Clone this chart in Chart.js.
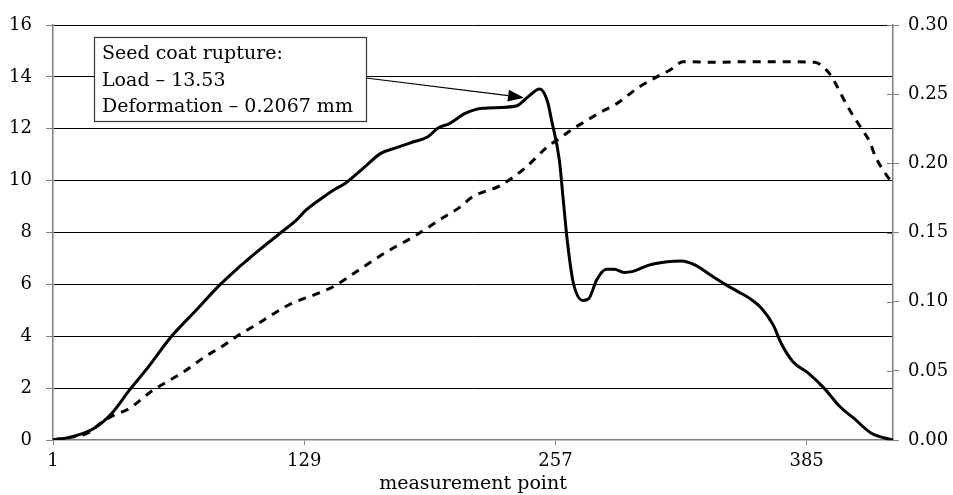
<!DOCTYPE html>
<html>
<head>
<meta charset="utf-8">
<script src="https://cdn.jsdelivr.net/npm/chart.js@4/dist/chart.umd.min.js"></script>
<style>
  html, body { margin: 0; padding: 0; background: #fff; }
  #wrap { width: 953px; height: 495px; position: relative; }
</style>
</head>
<body>
<div id="wrap"><canvas id="chart"></canvas></div>
<script>
// measurement point ticks shown on the x axis
const xTicks = [1, 129, 257, 385];

// Load (left axis)
const loadX = [1, 11, 22, 31, 40, 49, 61, 74, 86, 96, 100, 106, 117, 125, 130, 139, 144, 150, 159, 168, 176, 184, 192, 197, 203, 211, 220, 237, 243, 249, 253, 255, 259, 261, 263, 266, 271, 274, 278, 283, 287, 292, 296, 305, 314, 321, 328, 336, 344, 350, 356, 362, 368, 372, 378, 386, 394, 402, 409, 418, 429];
const loadY = [0, 0.13, 0.45, 1.03, 1.93, 2.76, 3.96, 5.01, 5.98, 6.68, 6.94, 7.32, 7.99, 8.48, 8.87, 9.38, 9.64, 9.90, 10.47, 11.05, 11.27, 11.48, 11.69, 12.02, 12.2, 12.59, 12.79, 12.88, 13.23, 13.53, 13.04, 12.34, 10.79, 9.25, 7.71, 6.1, 5.38, 5.45, 6.17, 6.58, 6.58, 6.46, 6.49, 6.75, 6.87, 6.90, 6.75, 6.36, 5.98, 5.72, 5.46, 5.08, 4.43, 3.73, 3.02, 2.57, 1.99, 1.28, 0.84, 0.26, 0];

// Deformation (right axis, mm)
const defX = [1, 20, 25, 32, 39, 52, 67, 79, 87, 94, 107, 121, 136, 144, 158, 171, 186, 200, 208, 215, 229, 241, 253, 260, 266, 273, 280, 287, 300, 308, 316, 322, 339, 355, 372, 389, 396, 400, 404, 408, 413, 417, 420, 424, 429];
const defY = [0, 0.006, 0.012, 0.018, 0.022, 0.036, 0.0487, 0.0607, 0.0675, 0.0743, 0.0855, 0.0976, 0.106, 0.111, 0.124, 0.136, 0.148, 0.161, 0.168, 0.176, 0.184, 0.196, 0.212, 0.219, 0.225, 0.231, 0.237, 0.242, 0.2555, 0.262, 0.268, 0.2735, 0.273, 0.2735, 0.2735, 0.273, 0.266, 0.257, 0.246, 0.236, 0.225, 0.216, 0.205, 0.195, 0.185];

const noteLines = ['Seed coat rupture:', 'Load \u2013 13.53', 'Deformation \u2013 0.2067 mm'];
const noteTarget = { x: 241, y: 13.2 };

const AXIS_GREY = '#7f7f7f';
const SERIF = "'DejaVu Serif', serif";

Chart.defaults.font.family = SERIF;
Chart.defaults.font.size = 18;
Chart.defaults.color = '#000';

const toPoints = (xs, ys) => xs.map((x, i) => ({ x: x, y: ys[i] }));

// right axis has tick marks crossing the axis line; chart.js only draws the outer half
const crossTicks = {
    id: 'crossTicks',
    afterDraw(chart) {
        const s = chart.scales.y2;
        const ctx = chart.ctx;
        ctx.save();
        ctx.strokeStyle = AXIS_GREY;
        ctx.lineWidth = 1;
        s.ticks.forEach(t => {
            const y = Math.round(s.getPixelForValue(t.value)) + 0.5;
            ctx.beginPath();
            ctx.moveTo(s.left - 6, y);
            ctx.lineTo(s.left, y);
            ctx.stroke();
        });
        ctx.restore();
    }
};

const note = {
    id: 'note',
    afterDraw(chart) {
        const ctx = chart.ctx;
        const area = chart.chartArea;
        const bx = area.left + 41, by = area.top + 12, bw = 272, bh = 84;

        ctx.save();
        ctx.fillStyle = '#fff';
        ctx.fillRect(bx, by, bw, bh);
        ctx.strokeStyle = '#333';
        ctx.lineWidth = 1.2;
        ctx.strokeRect(bx + 0.5, by + 0.5, bw, bh);

        ctx.fillStyle = '#000';
        ctx.font = '19px ' + SERIF;
        ctx.textBaseline = 'alphabetic';
        noteLines.forEach((line, i) => ctx.fillText(line, bx + 8, by + 22 + i * 26.5));

        // arrow to the rupture point
        const sx = bx + bw, sy = by + 41;
        const tx = chart.scales.x.getPixelForValue(noteTarget.x);
        const ty = chart.scales.y.getPixelForValue(noteTarget.y);
        const ang = Math.atan2(ty - sy, tx - sx);
        const hl = 16, hw = 6;
        const baseX = tx - hl * Math.cos(ang), baseY = ty - hl * Math.sin(ang);
        ctx.strokeStyle = '#000';
        ctx.lineWidth = 1.2;
        ctx.beginPath();
        ctx.moveTo(sx, sy);
        ctx.lineTo(baseX, baseY);
        ctx.stroke();
        ctx.beginPath();
        ctx.moveTo(tx, ty);
        ctx.lineTo(baseX + hw * Math.sin(ang), baseY - hw * Math.cos(ang));
        ctx.lineTo(baseX - hw * Math.sin(ang), baseY + hw * Math.cos(ang));
        ctx.closePath();
        ctx.fill();
        ctx.restore();
    }
};

new Chart(document.getElementById('chart'), {
    type: 'line',
    data: {
        datasets: [
            {
                label: 'Load',
                data: toPoints(loadX, loadY),
                yAxisID: 'y',
                borderColor: '#000',
                borderWidth: 3,
                pointRadius: 0,
                cubicInterpolationMode: 'monotone',
                fill: false
            },
            {
                label: 'Deformation',
                data: toPoints(defX, defY),
                yAxisID: 'y2',
                borderColor: '#000',
                borderWidth: 3,
                borderDash: [8, 7],
                borderCapStyle: 'butt',
                pointRadius: 0,
                cubicInterpolationMode: 'monotone',
                fill: false
            }
        ]
    },
    options: {
        responsive: true,
        maintainAspectRatio: false,
        animation: false,
        layout: { padding: { top: 25, left: 0, right: 0, bottom: 0 } },
        plugins: {
            legend: { display: false },
            tooltip: { enabled: false }
        },
        scales: {
            x: {
                type: 'linear',
                min: 1,
                max: 429,
                afterBuildTicks: s => { s.ticks = xTicks.map(v => ({ value: v })); },
                afterFit: s => { s.height = 55; },
                ticks: { padding: 6, maxRotation: 0, autoSkip: false },
                grid: { drawOnChartArea: false, tickLength: 5, color: AXIS_GREY },
                border: { color: AXIS_GREY, width: 1.5 },
                title: {
                    display: true,
                    text: 'measurement point',
                    font: { size: 19 },
                    padding: { top: 0, bottom: 0 }
                }
            },
            y: {
                position: 'left',
                min: 0,
                max: 16,
                ticks: { stepSize: 2, padding: 14 },
                afterFit: s => { s.width = 53; },
                grid: {
                    color: c => (c.tick && c.tick.value === 0 ? 'rgba(0,0,0,0)' : '#000'),
                    tickColor: AXIS_GREY,
                    tickLength: 7,
                    lineWidth: 1
                },
                border: { color: AXIS_GREY, width: 1.5 }
            },
            y2: {
                position: 'right',
                min: 0,
                max: 0.30,
                ticks: { stepSize: 0.05, padding: 9, callback: v => v.toFixed(2) },
                afterFit: s => { s.width = 60; },
                grid: { drawOnChartArea: false, tickLength: 6, color: AXIS_GREY },
                border: { color: AXIS_GREY, width: 1.5 }
            }
        }
    },
    plugins: [crossTicks, note]
});
</script>
</body>
</html>
